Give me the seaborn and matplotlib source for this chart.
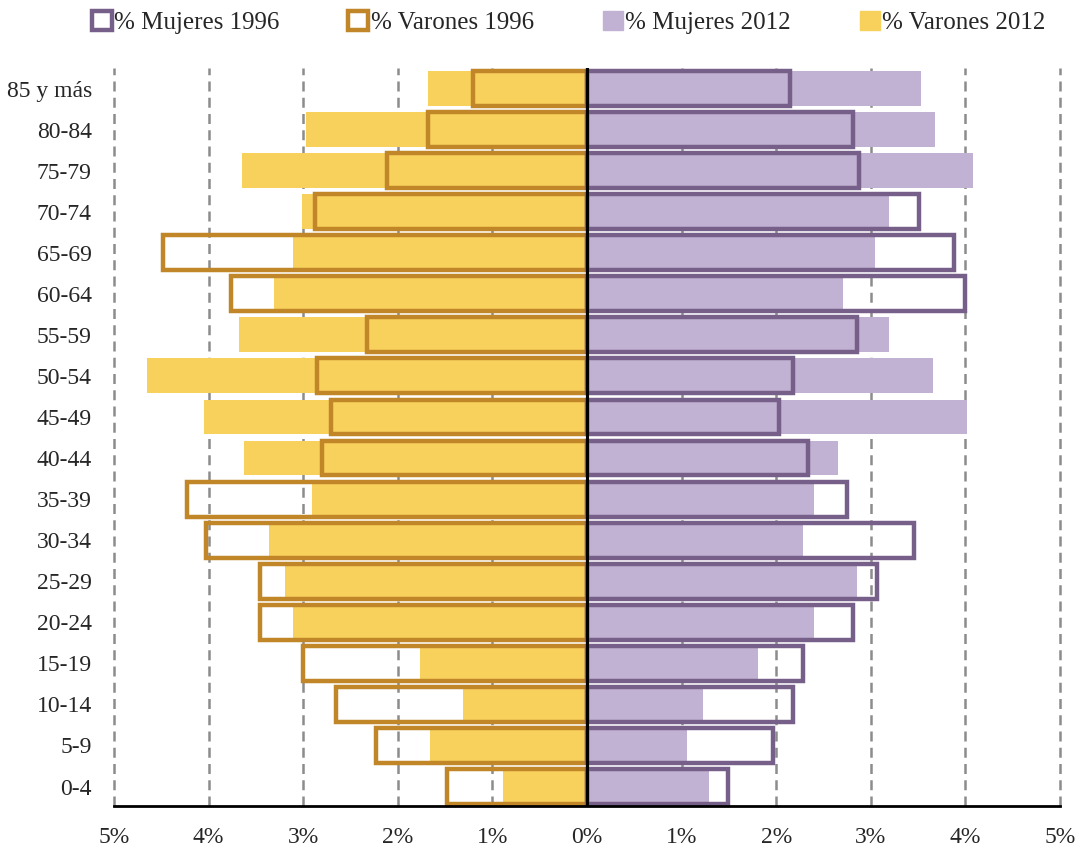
import numpy as np
import pandas as pd
import matplotlib
matplotlib.use("Agg")
import matplotlib.pyplot as plt
from matplotlib.patches import Patch
from matplotlib.ticker import FuncFormatter
import seaborn as sns

sns.set_theme(style="white")
plt.rcParams['font.family'] = ['Liberation Serif', 'DejaVu Serif']

# Datos (% de la población total)
edades = ['85 y más', '80-84', '75-79', '70-74', '65-69', '60-64', '55-59', '50-54', '45-49',
          '40-44', '35-39', '30-34', '25-29', '20-24', '15-19', '10-14', '5-9', '0-4']
varones_2012 = [1.68, 2.97, 3.65, 3.01, 3.11, 3.31, 3.68, 4.65, 4.05,
                3.63, 2.91, 3.36, 3.19, 3.11, 1.77, 1.31, 1.66, 0.89]
varones_1996 = [1.20, 1.68, 2.11, 2.88, 4.48, 3.76, 2.33, 2.85, 2.71,
                2.80, 4.23, 4.03, 3.46, 3.46, 3.00, 2.65, 2.23, 1.48]
mujeres_2012 = [3.53, 3.68, 4.08, 3.19, 3.05, 2.71, 3.19, 3.66, 4.02,
                2.65, 2.40, 2.28, 2.85, 2.40, 1.81, 1.23, 1.06, 1.29]
mujeres_1996 = [2.15, 2.81, 2.88, 3.51, 3.88, 4.00, 2.85, 2.18, 2.03,
                2.34, 2.75, 3.46, 3.07, 2.81, 2.28, 2.18, 1.97, 1.49]

df = pd.DataFrame({'edad': edades,
                   'v2012': -np.array(varones_2012), 'v1996': -np.array(varones_1996),
                   'm2012': mujeres_2012, 'm1996': mujeres_1996})

c_muj96 = '#76608A'
c_var96 = '#C08628'
c_muj12 = '#C1B1D2'
c_var12 = '#F8D15C'

fig = plt.figure(figsize=(10.81, 8.5), dpi=100)
ax = fig.add_axes([0.1055, 0.052, 0.875, 0.868])

ancho = 0.85
sns.barplot(data=df, y='edad', x='v2012', orient='h', color=c_var12, saturation=1,
            width=ancho, linewidth=0, ax=ax)
sns.barplot(data=df, y='edad', x='m2012', orient='h', color=c_muj12, saturation=1,
            width=ancho, linewidth=0, ax=ax)
sns.barplot(data=df, y='edad', x='v1996', orient='h', color=c_var96, saturation=1,
            width=ancho, fill=False, linewidth=3.2, ax=ax)
sns.barplot(data=df, y='edad', x='m1996', orient='h', color=c_muj96, saturation=1,
            width=ancho, fill=False, linewidth=3.2, ax=ax)

ax.axvline(0, color='black', lw=2.2, zorder=5)
ax.set_xlim(-5, 5)
ax.set_ylim(17.47, -0.5)
ax.set_xticks(range(-5, 6))
ax.xaxis.set_major_formatter(FuncFormatter(lambda v, p: f'{abs(int(round(v)))}%'))
ax.set_axisbelow(True)
ax.grid(axis='x', color='#8C8C8C', linestyle=(0, (4, 2.5)), lw=1.8)
ax.grid(axis='y', visible=False)
for gl in ax.get_xgridlines():
    gl.set_clip_on(False)
ax.set_xlabel('')
ax.set_ylabel('')
for s in ['left', 'right', 'top']:
    ax.spines[s].set_visible(False)
ax.spines['bottom'].set_color('black')
ax.spines['bottom'].set_linewidth(2)
ax.tick_params(axis='x', direction='out', length=5, width=2, color='black',
               labelsize=17, pad=10)
ax.tick_params(axis='y', length=0, labelsize=17, pad=16)

handles = [Patch(facecolor='white', edgecolor=c_muj96, lw=3.2),
           Patch(facecolor='white', edgecolor=c_var96, lw=3.2),
           Patch(facecolor=c_muj12, edgecolor=c_muj12),
           Patch(facecolor=c_var12, edgecolor=c_var12)]
labels = ['% Mujeres 1996', '% Varones 1996', '% Mujeres 2012', '% Varones 2012']
fig.legend(handles, labels, loc='upper center', bbox_to_anchor=(0.526, 1.014), ncol=4,
           frameon=False, fontsize=18, handlelength=0.8, handleheight=0.8,
           handletextpad=0.1, columnspacing=2.75)

plt.savefig('out.png', dpi=100)
